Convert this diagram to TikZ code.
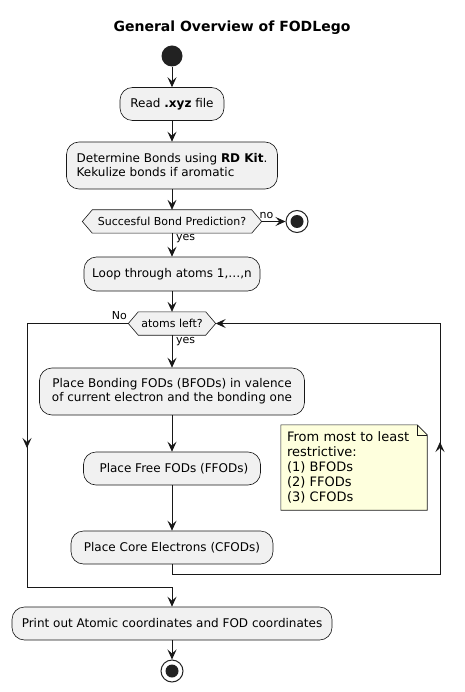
\documentclass[tikz,border=0pt]{standalone}
\usepackage{fontspec}
\setmainfont{DejaVu Sans}
\usetikzlibrary{arrows.meta,backgrounds}
\definecolor{boxfill}{HTML}{F1F1F1}
\definecolor{ln}{HTML}{181818}
\definecolor{notefill}{HTML}{FEFFDD}
\definecolor{dot}{HTML}{222222}
\begin{document}
\begin{tikzpicture}[x=1pt,y=-1pt,
  act/.style={draw=ln, fill=boxfill, rounded corners=12.5pt, line width=0.6pt, inner sep=0pt, font=\fontsize{12}{14}\selectfont},
  dec/.style={inner sep=0pt, font=\fontsize{11}{13}\selectfont},
  hexa/.style={draw=ln, fill=boxfill, line width=0.6pt},
  conn/.style={draw=ln, line width=0.8pt, -{Stealth[length=10pt,width=9pt,inset=4pt]}},
  plain/.style={draw=ln, line width=0.8pt},
  lbl/.style={font=\fontsize{11}{13}\selectfont, inner sep=0pt},
  startdot/.style={circle, fill=dot, inner sep=0pt, minimum size=21pt},
  stopring/.style={circle, draw=dot, fill=white, line width=1pt, inner sep=0pt, minimum size=22pt},
  stopdot/.style={circle, fill=dot, inner sep=0pt, minimum size=13pt}]
\useasboundingbox (0,0) rectangle (464,692);

\node[font=\bfseries\fontsize{14}{16}\selectfont] (title) at (232,28) {General Overview of FODLego};

\node[startdot] (start) at (172,56) {};
\node[act, minimum width=104pt, minimum height=33pt] (read) at (172,104) {Read \textbf{.xyz} file};
\node[act, minimum width=211pt, minimum height=47pt, align=left] (det) at (172,165.5) {Determine Bonds using \textbf{RD Kit}.\\Kekulize bonds if aromatic};
\node[dec, minimum width=179pt, minimum height=23pt] (d1) at (172,221.5) {Succesful Bond Prediction?};
\node[stopring] (s1) at (297,221.5) {};
\node[stopdot] (s1i) at (297,221.5) {};
\node[act, minimum width=176pt, minimum height=34pt] (loop) at (172,274) {Loop through atoms 1,…,n};
\node[dec, minimum width=87pt, minimum height=23pt] (d2) at (172,323.5) {atoms left?};
\node[act, minimum width=265pt, minimum height=47pt, align=center] (bond) at (172,391.5) {Place Bonding FODs (BFODs) in valence\\of current electron and the bonding one};
\node[act, minimum width=177pt, minimum height=33pt] (ffod) at (172,468.5) {\ Place Free FODs (FFODs)};
\node[act, minimum width=202pt, minimum height=33pt] (cfod) at (172,547.5) {Place Core Electrons (CFODs)};
\node[act, minimum width=320pt, minimum height=33pt] (fin) at (172,623.5) {Print out Atomic coordinates and FOD coordinates};
\node[stopring] (s2) at (172,671) {};
\node[stopdot] (s2i) at (172,671) {};

\node[text width=134pt, inner xsep=6pt, inner ysep=0pt, minimum height=85pt, align=left, font=\fontsize{13}{15}\selectfont] (note) at (354,467.5) {From most to least\\restrictive:\\(1) BFODs\\(2) FFODs\\(3) CFODs};

\begin{scope}[on background layer]
  \fill[white] (0,0) rectangle (464,692);
  \path[hexa] (d1.west) -- ([xshift=10pt]d1.north west) -- ([xshift=-10pt]d1.north east) -- (d1.east) -- ([xshift=-10pt]d1.south east) -- ([xshift=10pt]d1.south west) -- cycle;
  \path[hexa] (d2.west) -- ([xshift=10pt]d2.north west) -- ([xshift=-10pt]d2.north east) -- (d2.east) -- ([xshift=-10pt]d2.south east) -- ([xshift=10pt]d2.south west) -- cycle;
  \path[draw=ln, fill=notefill, line width=0.6pt] (note.north west) -- ([xshift=-10pt]note.north east) -- ([yshift=-10pt]note.north east) -- (note.south east) -- (note.south west) -- cycle;
  \path[draw=ln, line width=0.6pt] ([xshift=-10pt]note.north east) -- ([xshift=-10pt,yshift=-10pt]note.north east) -- ([yshift=-10pt]note.north east);
\end{scope}

\draw[conn] (start) -- (read);
\draw[conn] (read) -- (det);
\draw[conn] (det) -- (d1);
\draw[conn] (d1.east) -- (s1);
\node[lbl] (lno) at (266.5,215) {no};
\draw[conn] (d1.south) -- (loop);
\node[lbl, anchor=west] (lyes1) at (176,239) {yes};
\draw[conn] (loop) -- (d2);
\draw[conn] (d2.south) -- (bond);
\node[lbl, anchor=west] (lyes2) at (176,342) {yes};
\draw[conn] (bond) -- (ffod);
\draw[conn] (ffod) -- (cfod);

\coordinate (rb) at (440,574);
\coordinate (rt) at (440,323.5);
\coordinate (rm) at (440,442);
\draw[conn] (cfod.south) |- (rb) -- (rt) -- (d2.east);
\draw[conn] (rb) -- (rm);

\coordinate (lt) at (27,323.5);
\coordinate (lb) at (27,587);
\coordinate (lm) at (27,448);
\draw[conn] (d2.west) -- (lt) -- (lb) -| (fin.north);
\draw[conn] (lt) -- (lm);
\node[lbl, anchor=east] (lno2) at (127,316) {No};

\draw[conn] (fin) -- (s2);
\end{tikzpicture}
\end{document}
